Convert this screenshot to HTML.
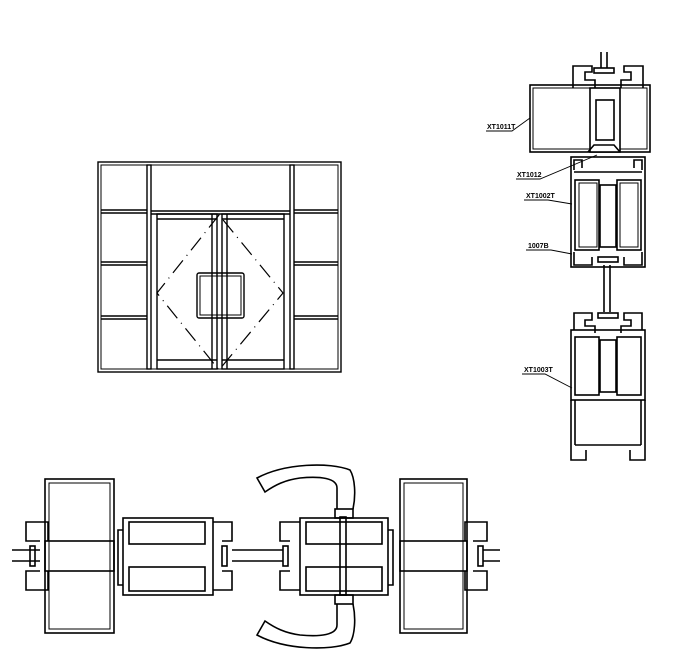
<!DOCTYPE html>
<html><head><meta charset="utf-8"><style>
html,body{margin:0;padding:0;background:#fff;}
svg{display:block;}
text{font-family:"Liberation Sans",sans-serif;font-size:7px;font-weight:bold;}
</style></head><body>
<svg width="700" height="667" viewBox="0 0 700 667" xmlns="http://www.w3.org/2000/svg" fill="none" stroke="#000" stroke-width="1.4">
<!-- Elevation -->
<rect x="98" y="162" width="243" height="210"/>
<rect x="101" y="165" width="237" height="204" stroke-width="1"/>
<rect x="147" y="165" width="4" height="204"/>
<rect x="290" y="165" width="4" height="204"/>
<line x1="151" y1="211" x2="290" y2="211"/>
<line x1="151" y1="214" x2="290" y2="214"/>
<line x1="101" y1="210" x2="147" y2="210"/><line x1="101" y1="213" x2="147" y2="213"/>
<line x1="101" y1="262" x2="147" y2="262"/><line x1="101" y1="265" x2="147" y2="265"/>
<line x1="101" y1="316" x2="147" y2="316"/><line x1="101" y1="319" x2="147" y2="319"/>
<line x1="294" y1="210" x2="338" y2="210"/><line x1="294" y1="213" x2="338" y2="213"/>
<line x1="294" y1="262" x2="338" y2="262"/><line x1="294" y1="265" x2="338" y2="265"/>
<line x1="294" y1="316" x2="338" y2="316"/><line x1="294" y1="319" x2="338" y2="319"/>
<!-- doors -->
<rect x="157" y="214" width="60" height="155"/>
<rect x="222" y="214" width="62" height="155"/>
<line x1="157" y1="219" x2="217" y2="219"/><line x1="222" y1="219" x2="284" y2="219"/>
<line x1="157" y1="360" x2="217" y2="360"/><line x1="222" y1="360" x2="284" y2="360"/>
<line x1="212" y1="214" x2="212" y2="369"/><line x1="227" y1="214" x2="227" y2="369"/>
<rect x="197" y="273" width="47" height="45" rx="2"/>
<rect x="200" y="276" width="41" height="39" stroke-width="1"/>
<path d="M219 215 L157 293 L219 370 L283 293 Z" stroke-dasharray="16 6 1 6" stroke-width="1.2"/>
<!-- Right vertical section -->
<g stroke-width="1.6">
<line x1="601" y1="52" x2="601" y2="68"/><line x1="607" y1="52" x2="607" y2="68"/>
<path d="M573 88 V66 H592 V72 H585 V80 H595 V88"/>
<path d="M643 88 V66 H624 V72 H631 V80 H621 V88"/>
<rect x="594" y="68" width="20" height="5"/>
<rect x="530" y="85" width="120" height="67"/><rect x="533" y="88" width="114" height="61" stroke-width="1"/>
<rect x="590" y="88" width="30" height="64" fill="#fff"/>
<rect x="596" y="100" width="18" height="40"/>
<path d="M588 152 L594 145 H614 L620 152"/>
<!-- middle -->
<rect x="571" y="157" width="74" height="110"/>
<path d="M574 170 V160 H582 V168 M642 170 V160 H634 V168"/>
<line x1="574" y1="172" x2="642" y2="172"/>
<rect x="575" y="180" width="24" height="70"/><rect x="579" y="183" width="18" height="64" stroke-width="1"/>
<rect x="617" y="180" width="24" height="70"/><rect x="620" y="183" width="18" height="64" stroke-width="1"/>
<rect x="600" y="185" width="16" height="62"/>
<path d="M574 252 V265 H592 V257 M642 252 V265 H624 V257"/>
<rect x="598" y="257" width="20" height="5"/>
<line x1="604" y1="265" x2="604" y2="312"/><line x1="610" y1="265" x2="610" y2="312"/>
<!-- bottom -->
<path d="M574 330 V313 H592 V320 H585 V326 H595 V333"/>
<path d="M642 330 V313 H624 V320 H631 V326 H621 V333"/>
<rect x="598" y="313" width="20" height="5"/>
<rect x="571" y="330" width="74" height="70"/>
<rect x="575" y="337" width="24" height="58"/><rect x="617" y="337" width="24" height="58"/>
<rect x="600" y="340" width="16" height="52"/>
<line x1="571" y1="400" x2="571" y2="455"/><line x1="575" y1="400" x2="575" y2="445"/>
<line x1="645" y1="400" x2="645" y2="455"/><line x1="641" y1="400" x2="641" y2="445"/>
<line x1="575" y1="445" x2="641" y2="445"/>
<path d="M571 455 V460 H586 V450 M645 455 V460 H630 V450"/>
</g>
<g stroke-width="0.9">
<path d="M486 131 H512 L530 118"/>
<path d="M516 179 H540 L597 155"/>
<path d="M524 200 H548 L572 204"/>
<path d="M526 250 H551 L572 254"/>
<path d="M522 374 H545 L572 388"/>
</g>
<g fill="#000" stroke="none">
<text x="487" y="129">XT1011T</text>
<text x="517" y="177">XT1012</text>
<text x="526" y="198">XT1002T</text>
<text x="528" y="248">1007B</text>
<text x="524" y="372">XT1003T</text>
</g>
<!-- Bottom horizontal section -->
<g stroke-width="1.6">
<line x1="12" y1="550" x2="40" y2="550"/><line x1="12" y1="561" x2="40" y2="561"/>
<rect x="45" y="479" width="69" height="154"/><rect x="49" y="483" width="61" height="146" stroke-width="1"/>
<rect x="45" y="541" width="69" height="30"/>
<path d="M48 541 V522 H26 V541 H40 M48 571 V590 H26 V571 H40"/>
<rect x="30" y="546" width="5" height="20"/>
<!-- leaf 1 -->
<rect x="123" y="518" width="90" height="77"/>
<rect x="129" y="522" width="76" height="22"/><rect x="129" y="567" width="76" height="24"/>
<path d="M123 530 H118 V585 H123"/>
<path d="M213 522 H232 V541 H222 M213 590 H232 V571 H222"/>
<rect x="222" y="546" width="5" height="20"/>
<line x1="232" y1="550" x2="283" y2="550"/><line x1="232" y1="561" x2="283" y2="561"/>
<!-- leaf 2 -->
<rect x="283" y="546" width="5" height="20"/>
<path d="M300 522 H280 V541 H290 M300 590 H280 V571 H290"/>
<rect x="300" y="518" width="88" height="77"/>
<rect x="306" y="522" width="76" height="22"/><rect x="306" y="567" width="76" height="24"/>
<path d="M388 530 H393 V585 H388"/>
<rect x="340" y="517" width="6" height="78"/>
<rect x="335" y="509" width="18" height="9"/><rect x="335" y="595" width="18" height="9"/>
<path d="M337 509 V488 C337 478 320 476 300 478 C285 480 275 485 265 492 L257 478 C285 463 330 462 350 470 C355 478 356 495 353 509"/>
<path d="M337 604 V625 C337 635 320 637 300 635 C285 633 275 628 265 621 L257 635 C285 650 330 651 350 643 C355 635 356 618 353 604"/>
<!-- right mullion -->
<rect x="400" y="479" width="67" height="154"/><rect x="404" y="483" width="59" height="146" stroke-width="1"/>
<rect x="400" y="541" width="67" height="30"/>
<path d="M465 541 V522 H487 V541 H473 M465 571 V590 H487 V571 H473"/>
<rect x="478" y="546" width="5" height="20"/>
<line x1="483" y1="550" x2="500" y2="550"/><line x1="483" y1="561" x2="500" y2="561"/>
</g>
</svg>
</body></html>
